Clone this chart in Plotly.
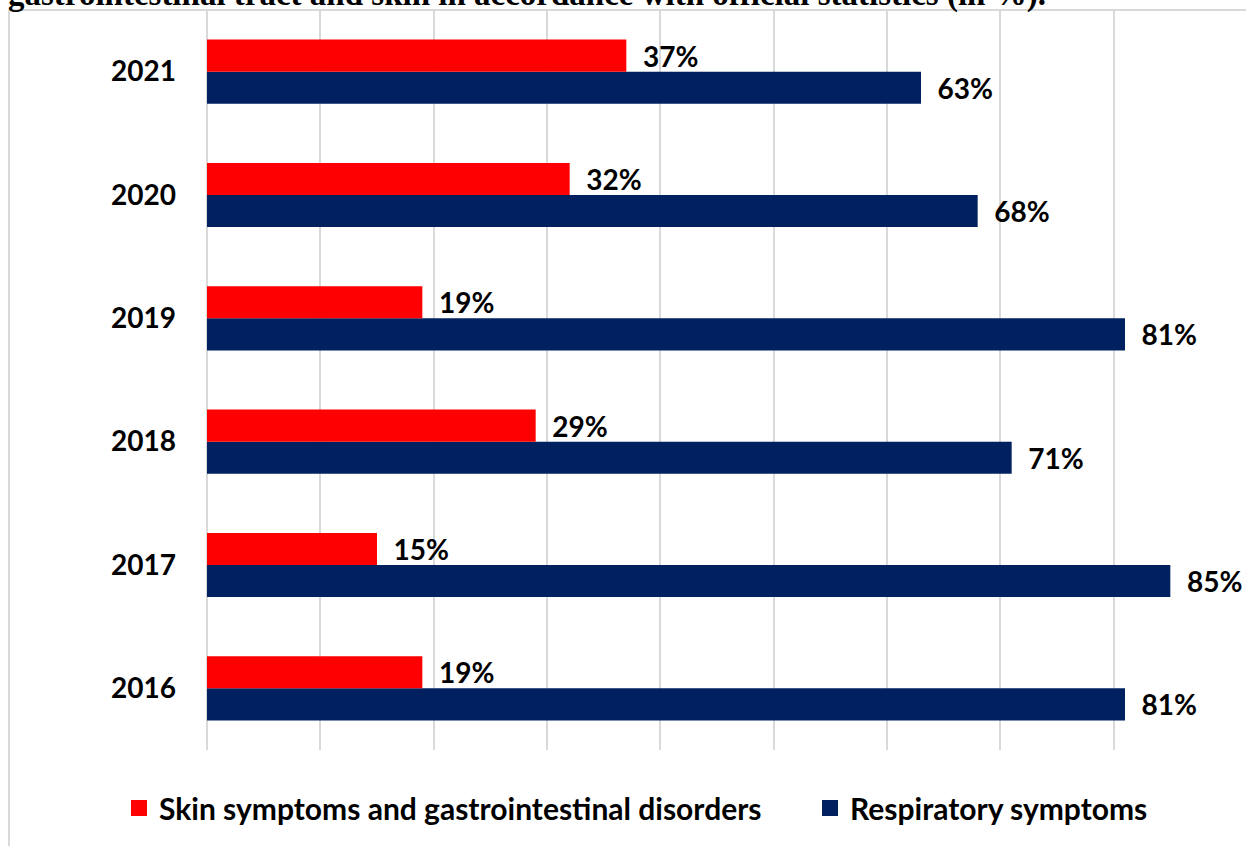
import plotly.graph_objects as go

years = ["2016", "2017", "2018", "2019", "2020", "2021"]
skin_gi = [19, 15, 29, 19, 32, 37]
respiratory = [81, 85, 71, 81, 68, 63]
series_names = ["Skin symptoms and gastrointestinal disorders", "Respiratory symptoms"]
title_text = "gastrointestinal tract and skin in accordance with official statistics (in %)."

W, H = 1246, 846
ML, MR, MT, MB = 207, 19, 10, 96
PW, PH = W - ML - MR, H - MT - MB

def px_x(p):
    return (p - ML) / PW

def px_y(p):
    return (H - MB - p) / PH

FONT = "Lato"
RED, NAVY = "#FF0000", "#002060"
lbl_font = dict(family=FONT, size=28, color="black", weight="bold")
pad = "\u00a0\u00a0"

fig = go.Figure()
fig.add_trace(go.Bar(
    y=years, x=respiratory, orientation="h", name=series_names[1],
    marker=dict(color=NAVY, line=dict(width=0)), showlegend=False,
    text=[f"{pad}{v}%" for v in respiratory], textposition="outside",
    textfont=lbl_font, constraintext="none", cliponaxis=False,
))
fig.add_trace(go.Bar(
    y=years, x=skin_gi, orientation="h", name=series_names[0],
    marker=dict(color=RED, line=dict(width=0)), showlegend=False,
    text=[f"{pad}{v}%" for v in skin_gi], textposition="outside",
    textfont=lbl_font, constraintext="none", cliponaxis=False,
))
# legend entries (square keys)
for name, col, lg in zip(series_names, [RED, NAVY], ["legend", "legend2"]):
    fig.add_trace(go.Scatter(
        x=[None], y=[None], mode="markers", name=name, legend=lg,
        marker=dict(symbol="square", size=18, color=col, line=dict(width=0)),
    ))

leg_common = dict(orientation="h", yanchor="middle", xanchor="left",
                  font=dict(family=FONT, size=30, color="black", weight="bold"),
                  itemsizing="trace", itemwidth=30, bgcolor="rgba(0,0,0,0)")

fig.update_layout(
    width=W, height=H,
    margin=dict(l=ML, r=MR, t=MT, b=MB, autoexpand=False),
    paper_bgcolor="white", plot_bgcolor="white",
    barmode="group", bargap=0.48, bargroupgap=0,
    showlegend=True,
    legend=dict(x=px_x(119), y=px_y(808), **leg_common),
    legend2=dict(x=px_x(810), y=px_y(808), **leg_common),
    xaxis=dict(range=[0, 90], dtick=10, showticklabels=False, showgrid=True,
               gridcolor="#d9d9d9", gridwidth=2, zeroline=True,
               zerolinecolor="#d9d9d9", zerolinewidth=2, showline=False, fixedrange=True),
    yaxis=dict(type="category", categoryorder="array", categoryarray=years,
               showgrid=False, zeroline=False, showline=False, ticks="",
               ticklabelstandoff=30, fixedrange=True,
               tickfont=dict(family=FONT, size=28, color="black", weight="bold")),
)

# outer chart border (left and top)
fig.add_shape(type="line", xref="paper", yref="paper",
              x0=px_x(9), x1=px_x(9), y0=px_y(10), y1=px_y(846),
              line=dict(color="#d9d9d9", width=2), layer="below")
fig.add_shape(type="line", xref="paper", yref="paper",
              x0=px_x(9), x1=px_x(1246), y0=px_y(10), y1=px_y(10),
              line=dict(color="#d9d9d9", width=2), layer="below")

fig.add_annotation(text=title_text, xref="paper", yref="paper",
                   x=px_x(6), y=1, xanchor="left", yanchor="bottom", yshift=-5,
                   showarrow=False,
                   font=dict(family="Liberation Serif", size=33, color="black", weight="bold"))

fig.write_html("out.html", config={"displayModeBar": False},
               post_script="document.body.style.margin='0px';document.body.style.padding='0px';")
